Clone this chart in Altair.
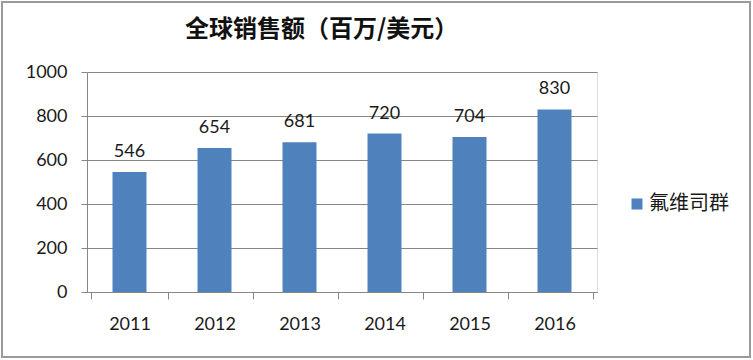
import altair as alt
import pandas as pd

years = ["2011", "2012", "2013", "2014", "2015", "2016"]
sales = [546, 654, 681, 720, 704, 830]
series_name = "氟维司群"
title_text = "全球销售额（百万/美元）"

df = pd.DataFrame({"year": years, "sales": sales, "series": [series_name] * len(years)})

W, H = 510, 220
PL, PT = 87, 72
num_font = "Lato"
cjk_font = "Noto Sans CJK SC"
txt_color = "#1a1a1a"
line_color = "#868686"

base = alt.Chart(df)

bars = base.mark_bar(color="#4F81BD", size=34).encode(
    x=alt.X("year:N", title=None, sort=years,
            axis=alt.Axis(labelAngle=0, tickBand="extent", domainColor=line_color,
                          tickColor=line_color, tickSize=7, labelFontSize=18,
                          labelFont=num_font, labelColor=txt_color, labelPadding=16,
                          grid=False)),
    y=alt.Y("sales:Q", title=None,
            scale=alt.Scale(domain=[0, 1000]),
            axis=alt.Axis(values=[0, 200, 400, 600, 800, 1000], format="d",
                          gridColor=line_color,
                          domainColor=line_color, tickColor=line_color, tickSize=6,
                          labelFontSize=18, labelFont=num_font, labelColor=txt_color,
                          labelPadding=14)),
    fill=alt.Fill("series:N", scale=alt.Scale(range=["#4F81BD"]),
                  legend=alt.Legend(title=None, orient="none", legendX=540, legendY=122,
                                    symbolType="square", symbolSize=121,
                                    symbolStrokeWidth=0,
                                    labelFont=cjk_font, labelFontSize=20,
                                    labelColor=txt_color, labelOffset=2)),
)

labels = base.mark_text(baseline="alphabetic", dy=-15, fontSize=18, font=num_font,
                        color=txt_color).encode(
    x=alt.X("year:N", sort=years),
    y="sales:Q",
    text="sales:Q",
)

border = base.mark_rect(fill=None, stroke="#9a9a9a", strokeWidth=2).encode(
    x=alt.value(-PL + 2), x2=alt.value(753 - PL - 3),
    y=alt.value(-PT + 2), y2=alt.value(360 - PT - 3),
)

chart = alt.layer(border, bars, labels).properties(
    width=W, height=H,
    title=alt.TitleParams(text=title_text, anchor="start", frame="group", dx=98,
                          offset=-41, font=cjk_font, fontSize=24, fontWeight="bold",
                          color="#111111"),
    autosize=alt.AutoSizeParams(type="none"),
    padding={"left": PL, "top": PT, "right": 753 - PL - W, "bottom": 360 - PT - H},
).configure_view(stroke=None).configure(background="white")

chart.save("out.html", embed_options={"renderer": "svg", "actions": False})
